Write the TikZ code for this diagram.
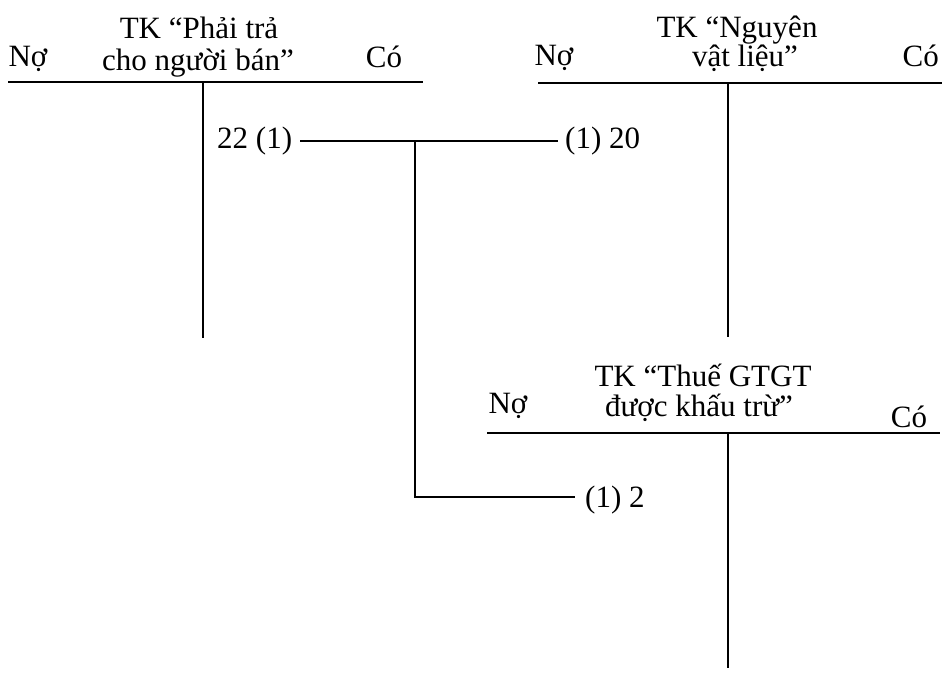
\documentclass[tikz,border=0pt]{standalone}
\usepackage{fontspec}
\setmainfont{Liberation Serif}
\begin{document}
\begin{tikzpicture}[x=1pt,y=-1pt,
  txt/.style={font=\fontsize{31}{33}\selectfont, inner sep=0pt, anchor=base},
  txtl/.style={txt, anchor=base west},
  txtr/.style={txt, anchor=base east},
  rule/.style={line width=2.5pt},
  tline/.style={line width=2.8pt}]
\useasboundingbox (0,0) rectangle (942,683);
% T-account 1
\node[txt] (t1a) at (199,38) {TK “Phải trả};
\node[txt] (t1b) at (198,70) {cho người bán”};
\node[txt] (t1n) at (28,66) {Nợ};
\node[txt] (t1c) at (384,67) {Có};
\coordinate (h1l) at (8,82);
\coordinate (h1r) at (423,82);
\coordinate (v1t) at (203,82);
\coordinate (v1b) at (203,338);
\draw[rule] (h1l) -- (h1r);
\draw[tline] (v1t) -- (v1b);
% T-account 2
\node[txt] (t2a) at (737,37) {TK “Nguyên};
\node[txt] (t2b) at (745,66) {vật liệu”};
\node[txt] (t2n) at (554,65) {Nợ};
\node[txtr] (t2c) at (939,66) {Có};
\coordinate (h2l) at (538,83);
\coordinate (h2r) at (942,83);
\coordinate (v2t) at (728,83);
\coordinate (v2b) at (728,337);
\draw[rule] (h2l) -- (h2r);
\draw[tline] (v2t) -- (v2b);
% T-account 3
\node[txt] (t3a) at (703,386) {TK “Thuế GTGT};
\node[txt] (t3b) at (699,416) {được khấu trừ”};
\node[txt] (t3n) at (508,413) {Nợ};
\node[txt] (t3c) at (909,427) {Có};
\coordinate (h3l) at (487,433);
\coordinate (h3r) at (940,433);
\coordinate (v3t) at (728,433);
\coordinate (v3b) at (728,668);
\draw[rule] (h3l) -- (h3r);
\draw[tline] (v3t) -- (v3b);
% entry (1)
\node[txtl] (e22) at (217,148) {22 (1)};
\node[txtl] (e20) at (565,148) {(1) 20};
\node[txtl] (e2) at (585,507) {(1) 2};
\coordinate (el) at (300,141);
\coordinate (er) at (558,141);
\coordinate (jn) at (415,141);
\coordinate (jc) at (415,497);
\coordinate (je) at (575,497);
\draw[rule] (el) -- (er);
\draw[rule] (jn) -- (jc) -- (je);
\end{tikzpicture}
\end{document}
